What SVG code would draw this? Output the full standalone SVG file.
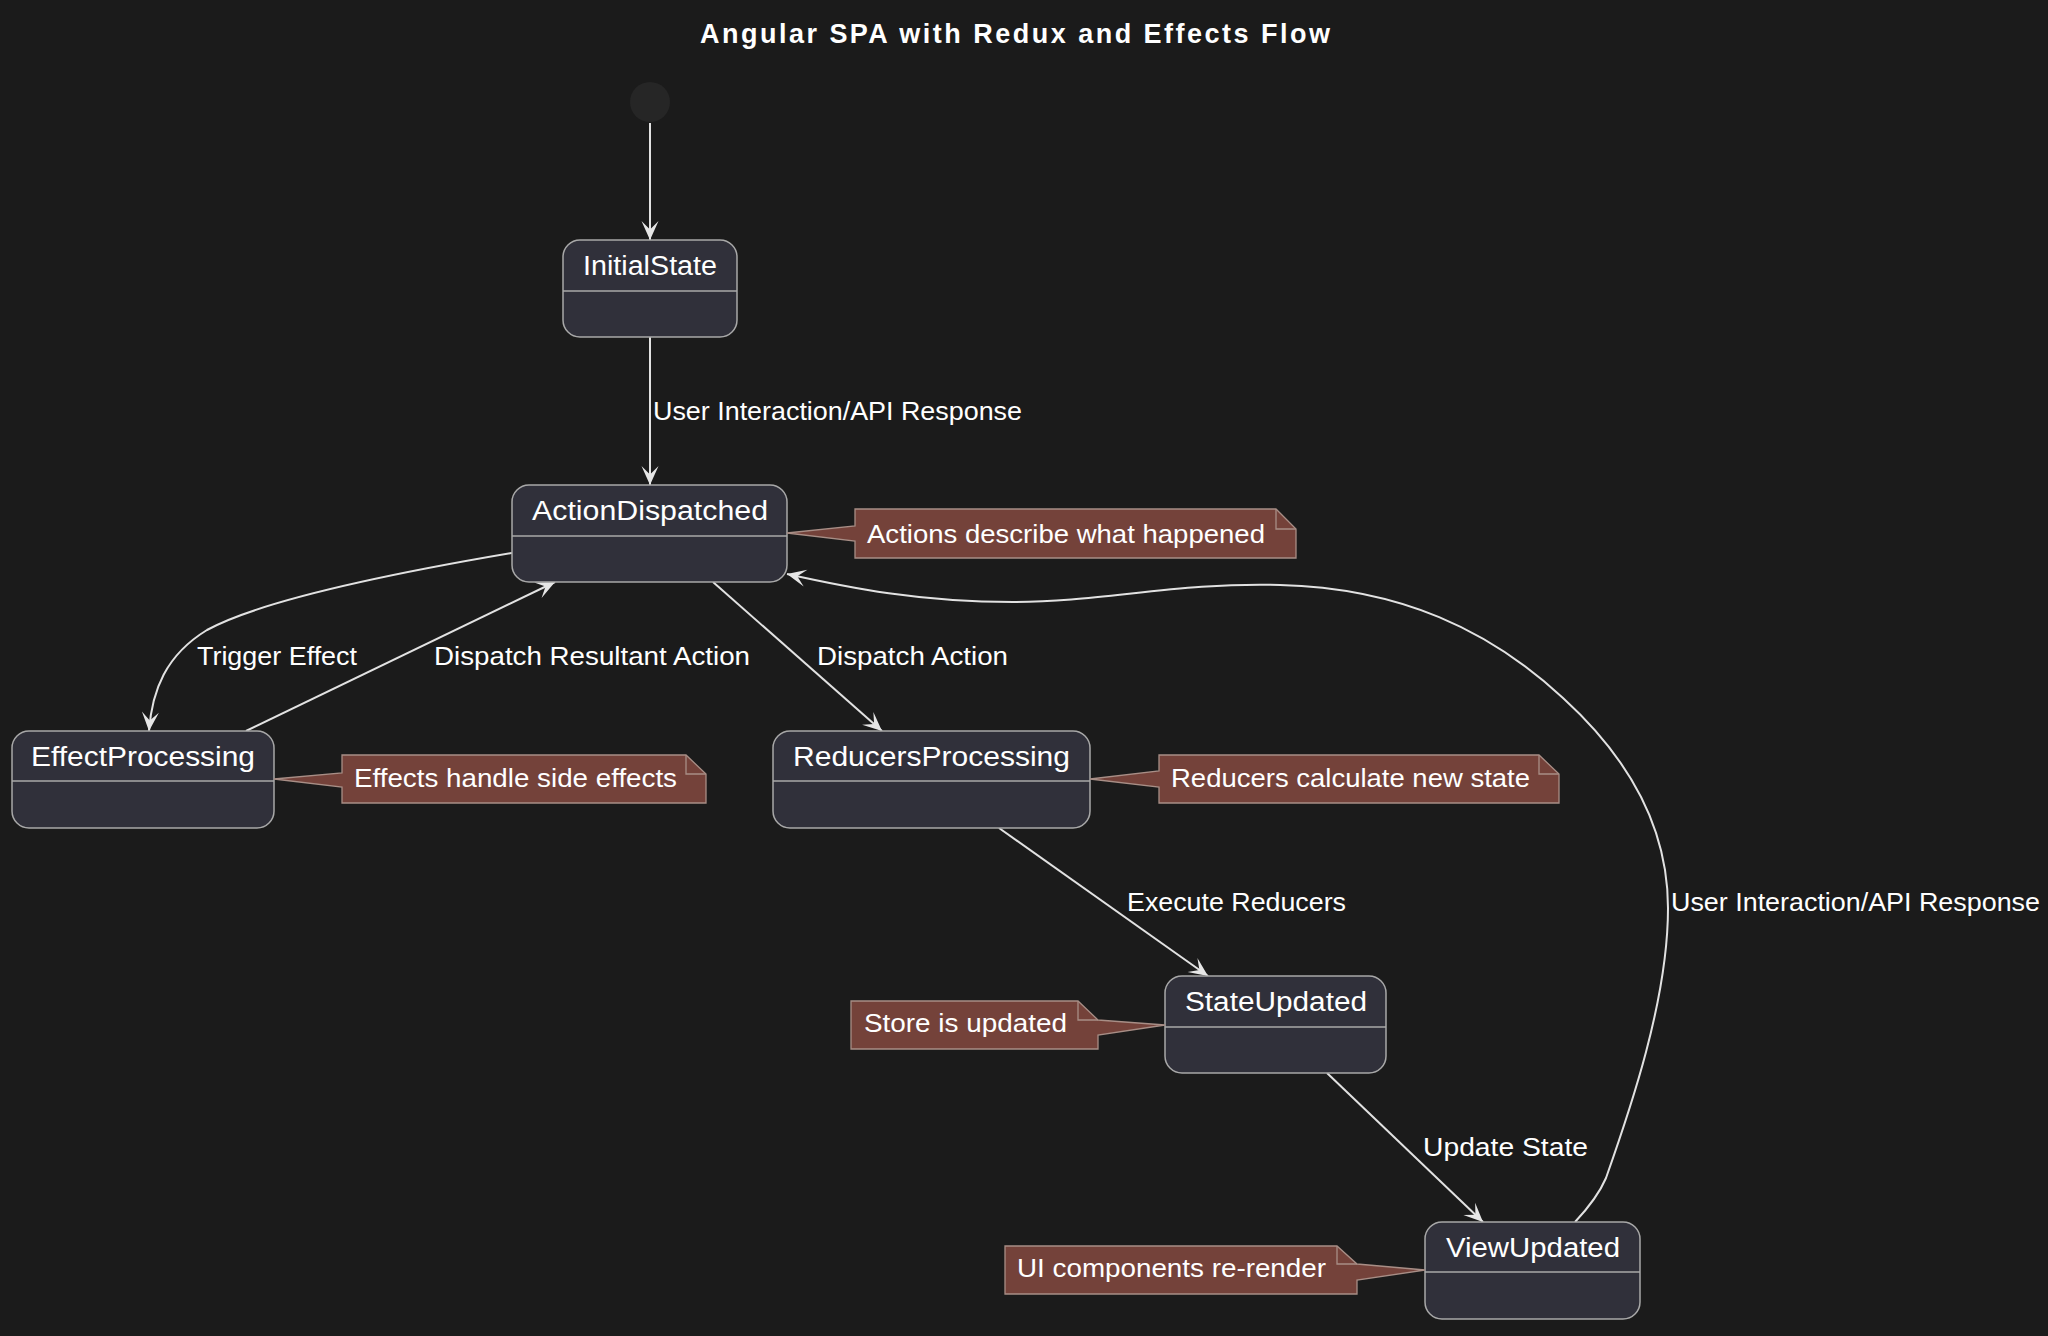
<svg xmlns="http://www.w3.org/2000/svg" width="2048" height="1336" viewBox="0 0 2048 1336">
<defs>
<style>
.bg{fill:#1b1b1b}
.state{fill:#30303a;stroke:#a8a8a8;stroke-width:1.5}
.div{stroke:#a8a8a8;stroke-width:1.5}
.note{fill:#74423a;stroke:#a88e86;stroke-width:1.3}
.fold{fill:none;stroke:#a88e86;stroke-width:1.3}
.edge{fill:none;stroke:#e2e2e2;stroke-width:2}
text{font-family:"Liberation Sans",Arial,Helvetica,sans-serif;fill:#ffffff}
.sn{font-size:27px}
.lb{font-size:26px}
.title{font-size:27px;font-weight:bold}
</style>
<marker id="arr" viewBox="-21 -10 23 20" markerWidth="23" markerHeight="20" refX="0" refY="0" orient="auto" markerUnits="userSpaceOnUse">
<path d="M0,0 L-19,-8.5 L-10.5,0 L-19,8.5 Z" fill="#e6e6e6"/>
</marker>
</defs>
<rect class="bg" x="0" y="0" width="2048" height="1336"/>
<text class="title" x="700" y="43" textLength="630" lengthAdjust="spacing">Angular SPA with Redux and Effects Flow</text>

<g id="connectors">
<path class="edge" d="M650,123 L650,240" marker-end="url(#arr)"/>
<path class="edge" d="M650,337 L650,485" marker-end="url(#arr)"/>
<path class="edge" d="M512,553 C400,572 262,600 207,630 C166,655 152,690 149,731" marker-end="url(#arr)"/>
<path class="edge" d="M246,731 L555,582" marker-end="url(#arr)"/>
<path class="edge" d="M713,582 L882,731" marker-end="url(#arr)"/>
<path class="edge" d="M999,828 L1208,976" marker-end="url(#arr)"/>
<path class="edge" d="M1327,1073 L1483,1222" marker-end="url(#arr)"/>
<path class="edge" d="M1575,1222 C1590,1206 1600,1192 1606,1178 C1630,1110 1668,1000 1668,908 C1668,820 1620,750 1563,698 C1490,630 1400,588 1280,585 C1180,582 1100,602 1013,602 C920,602 850,588 787,574" marker-end="url(#arr)"/>
<text class="lb" x="653" y="420" textLength="369" lengthAdjust="spacingAndGlyphs">User Interaction/API Response</text>
<text class="lb" x="197" y="665" textLength="160" lengthAdjust="spacingAndGlyphs">Trigger Effect</text>
<text class="lb" x="434" y="665" textLength="316" lengthAdjust="spacingAndGlyphs">Dispatch Resultant Action</text>
<text class="lb" x="817" y="665" textLength="191" lengthAdjust="spacingAndGlyphs">Dispatch Action</text>
<text class="lb" x="1127" y="911" textLength="219" lengthAdjust="spacingAndGlyphs">Execute Reducers</text>
<text class="lb" x="1423" y="1156" textLength="165" lengthAdjust="spacingAndGlyphs">Update State</text>
<text class="lb" x="1671" y="911" textLength="369" lengthAdjust="spacingAndGlyphs">User Interaction/API Response</text>
</g>

<g id="start">
<circle cx="650" cy="102" r="20" fill="#262626"/>
</g>

<g id="InitialState">
<rect class="state" x="563" y="240" width="174" height="97" rx="17"/>
<line class="div" x1="563" y1="291" x2="737" y2="291"/>
<text class="sn" x="583" y="275" textLength="134" lengthAdjust="spacingAndGlyphs">InitialState</text>
</g>

<g id="ActionDispatched">
<rect class="state" x="512" y="485" width="275" height="97" rx="17"/>
<line class="div" x1="512" y1="536" x2="787" y2="536"/>
<text class="sn" x="532" y="520" textLength="236" lengthAdjust="spacingAndGlyphs">ActionDispatched</text>
</g>

<g id="EffectProcessing">
<rect class="state" x="12" y="731" width="262" height="97" rx="17"/>
<line class="div" x1="12" y1="781" x2="274" y2="781"/>
<text class="sn" x="31" y="766" textLength="224" lengthAdjust="spacingAndGlyphs">EffectProcessing</text>
</g>

<g id="ReducersProcessing">
<rect class="state" x="773" y="731" width="317" height="97" rx="17"/>
<line class="div" x1="773" y1="781" x2="1090" y2="781"/>
<text class="sn" x="793" y="766" textLength="277" lengthAdjust="spacingAndGlyphs">ReducersProcessing</text>
</g>

<g id="StateUpdated">
<rect class="state" x="1165" y="976" width="221" height="97" rx="17"/>
<line class="div" x1="1165" y1="1027" x2="1386" y2="1027"/>
<text class="sn" x="1185" y="1011" textLength="182" lengthAdjust="spacingAndGlyphs">StateUpdated</text>
</g>

<g id="ViewUpdated">
<rect class="state" x="1425" y="1222" width="215" height="97" rx="17"/>
<line class="div" x1="1425" y1="1272" x2="1640" y2="1272"/>
<text class="sn" x="1446" y="1257" textLength="174" lengthAdjust="spacingAndGlyphs">ViewUpdated</text>
</g>

<g id="note-actions">
<path class="note" d="M855,509 L1276,509 L1296,529 L1296,558 L855,558 L855,541 L787,533 L855,526 Z"/>
<path class="fold" d="M1276,509 L1276,529 L1296,529"/>
<text class="lb" x="867" y="543" textLength="398" lengthAdjust="spacingAndGlyphs">Actions describe what happened</text>
</g>

<g id="note-effects">
<path class="note" d="M342,755 L686,755 L706,774 L706,803 L342,803 L342,787 L274,779 L342,773 Z"/>
<path class="fold" d="M686,755 L686,774 L706,774"/>
<text class="lb" x="354" y="787" textLength="323" lengthAdjust="spacingAndGlyphs">Effects handle side effects</text>
</g>

<g id="note-reducers">
<path class="note" d="M1159,755 L1539,755 L1559,774 L1559,803 L1159,803 L1159,787 L1090,779 L1159,771 Z"/>
<path class="fold" d="M1539,755 L1539,774 L1559,774"/>
<text class="lb" x="1171" y="787" textLength="359" lengthAdjust="spacingAndGlyphs">Reducers calculate new state</text>
</g>

<g id="note-store">
<path class="note" d="M851,1001 L1078,1001 L1098,1020 L1165,1025 L1098,1035 L1098,1049 L851,1049 Z"/>
<path class="fold" d="M1078,1001 L1078,1020 L1098,1020"/>
<text class="lb" x="864" y="1032" textLength="203" lengthAdjust="spacingAndGlyphs">Store is updated</text>
</g>

<g id="note-ui">
<path class="note" d="M1005,1246 L1337,1246 L1357,1264 L1425,1270 L1357,1280 L1357,1294 L1005,1294 Z"/>
<path class="fold" d="M1337,1246 L1337,1264 L1357,1264"/>
<text class="lb" x="1017" y="1277" textLength="309" lengthAdjust="spacingAndGlyphs">UI components re-render</text>
</g>
</svg>
